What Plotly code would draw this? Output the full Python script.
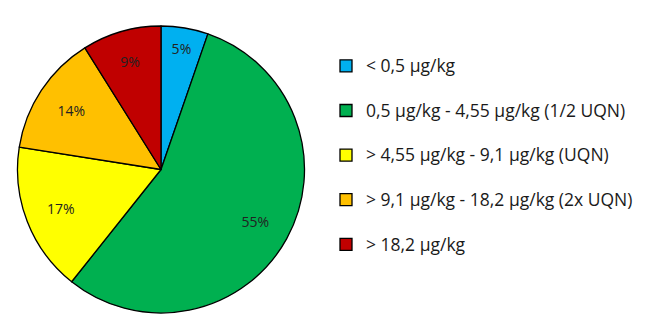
import plotly.graph_objects as go

labels = [
    "< 0,5 µg/kg",
    "0,5 µg/kg - 4,55 µg/kg (1/2 UQN)",
    "> 4,55 µg/kg - 9,1 µg/kg (UQN)",
    "> 9,1 µg/kg - 18,2 µg/kg (2x UQN)",
    "> 18,2 µg/kg",
]
values = [5.3, 55.4, 16.8, 13.6, 8.9]
shown_pct = ["5%", "55%", "17%", "14%", "9%"]
colors = ["#00B0F0", "#00B050", "#FFFF00", "#FFC000", "#C00000"]

domain = dict(x=[17/650, 305/650], y=[1-313/335, 1-26/335])

legend_labels = ['<span style="font-size:17.5px">' + l + '</span><br> ' for l in labels]

# main pie: slices + legend
fig = go.Figure(go.Pie(
    labels=legend_labels,
    values=values,
    textinfo="none",
    sort=False,
    direction="clockwise",
    rotation=0,
    marker=dict(colors=colors, line=dict(color="#000000", width=1.3)),
    domain=domain,
    hovertext=labels,
    hoverinfo="text+percent",
))

# transparent ring carrying the percentage labels further out from the centre
fig.add_trace(go.Pie(
    labels=legend_labels,
    values=values,
    text=shown_pct,
    textinfo="text",
    textposition="inside",
    insidetextorientation="horizontal",
    hole=0.5,
    sort=False,
    direction="clockwise",
    rotation=0,
    marker=dict(colors=["rgba(0,0,0,0)"] * len(values), line=dict(width=0)),
    textfont=dict(family="Open Sans", size=14, color="#222222"),
    domain=domain,
    showlegend=False,
    hoverinfo="skip",
))

fig.update_layout(
    width=650, height=335,
    margin=dict(l=0, r=0, t=0, b=0),
    paper_bgcolor="white",
    plot_bgcolor="white",
    showlegend=True,
    legend=dict(
        x=326/650, xanchor="left",
        y=1-49/335, yanchor="top",
        valign="top",
        font=dict(family="Open Sans", size=16, color="#1a1a1a"),
        bgcolor="rgba(0,0,0,0)",
        borderwidth=0,
    ),
)

fig.write_html("out.html")
